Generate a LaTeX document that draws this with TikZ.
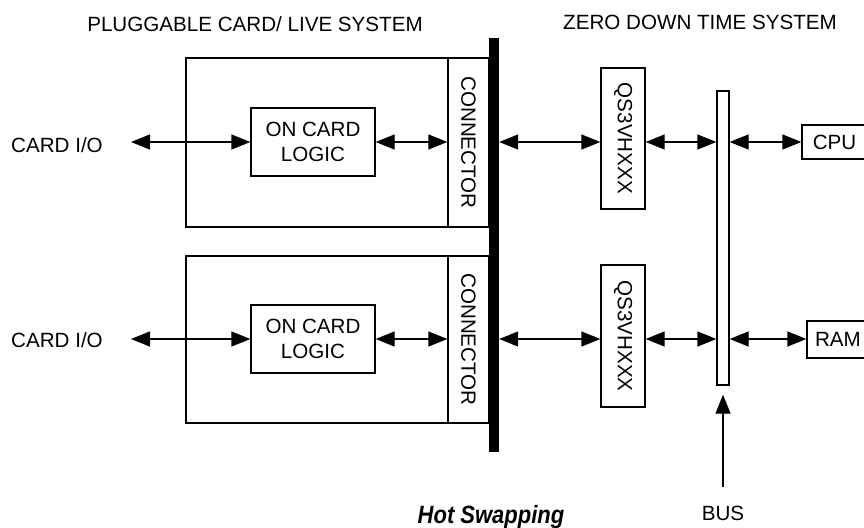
\documentclass[tikz,border=0pt]{standalone}
\usepackage{fontspec}
\setmainfont{Liberation Sans}
\usetikzlibrary{arrows.meta,positioning}

\tikzset{
  box/.style={draw,line width=1.3pt,inner sep=0pt},
  txt/.style={font=\fontsize{20.6}{25}\selectfont,inner sep=0pt},
  link/.style={line width=1.3pt,{Triangle[length=19pt,width=15pt]}-{Triangle[length=19pt,width=15pt]}},
  feed/.style={line width=1.3pt,-{Triangle[length=19pt,width=15pt]}},
}

\begin{document}
\begin{tikzpicture}[x=1pt,y=-1pt]
  \useasboundingbox (0,0) rectangle (864,527);

  % headings
  \node[txt] (ttlcard) at (255,24) {PLUGGABLE CARD/ LIVE SYSTEM};
  \node[txt] (ttlzero) at (700,22) {ZERO DOWN TIME SYSTEM};

  % rows of the two cards
  \coordinate (rowA) at (0,142);
  \coordinate (rowB) at (0,339);

  % backplane bar
  \node[fill,inner sep=0pt,minimum width=10pt,minimum height=414pt] (bar) at (494,245) {};

  % upper card
  \node[box,minimum width=303pt,minimum height=169pt] (cardA) at (337.5,142.5) {};
  \node[box,minimum width=41pt,minimum height=169pt,
        label={[txt,rotate=-90]center:CONNECTOR}] (connA) at (468.5,142.5) {};
  \node[box,txt,align=center,minimum width=124pt,minimum height=68pt] (logicA) at (313,142) {ON CARD\\LOGIC};
  \node[txt] (ioA) at (57,145) {CARD I/O};
  \coordinate (ioAend) at (131,142);

  % lower card
  \node[box,minimum width=303pt,minimum height=167pt] (cardB) at (337.5,339.5) {};
  \node[box,minimum width=41pt,minimum height=167pt,
        label={[txt,rotate=-90]center:CONNECTOR}] (connB) at (468.5,339.5) {};
  \node[box,txt,align=center,minimum width=124pt,minimum height=68pt] (logicB) at (313,339) {ON CARD\\LOGIC};
  \node[txt] (ioB) at (57,340) {CARD I/O};
  \coordinate (ioBend) at (131,339);

  % live system side
  \node[box,minimum width=44pt,minimum height=141pt,
        label={[txt,rotate=-90]center:QS3VHXXX}] (qsA) at (623,138.5) {};
  \node[box,minimum width=44pt,minimum height=142pt,
        label={[txt,rotate=-90]center:QS3VHXXX}] (qsB) at (623,336) {};
  \node[box,minimum width=12pt,minimum height=294pt] (bus) at (723,238) {};
  \node[box,txt,minimum width=65pt,minimum height=34pt] (cpu) at (834.5,142) {CPU};
  \node[box,txt,minimum width=62pt,minimum height=37pt] (ram) at (838,339.5) {RAM};

  % links
  \draw[link] (ioAend) -- (logicA.west |- rowA);
  \draw[link] (logicA.east |- rowA) -- (connA.west |- rowA);
  \draw[link] (bar.east |- rowA) -- (qsA.west |- rowA);
  \draw[link] (qsA.east |- rowA) -- (bus.west |- rowA);
  \draw[link] (bus.east |- rowA) -- (cpu.west |- rowA);

  \draw[link] (ioBend) -- (logicB.west |- rowB);
  \draw[link] (logicB.east |- rowB) -- (connB.west |- rowB);
  \draw[link] (bar.east |- rowB) -- (qsB.west |- rowB);
  \draw[link] (qsB.east |- rowB) -- (bus.west |- rowB);
  \draw[link] (bus.east |- rowB) -- (ram.west |- rowB);

  % bus feed
  \node[txt] (bustxt) at (723,513) {BUS};
  \coordinate (busfoot) at (723,487);
  \draw[feed,shorten >=9pt] (busfoot) -- (bus.south);

  % caption
  \node[font=\fontsize{25}{30}\selectfont\bfseries\itshape,inner sep=0pt,anchor=base] (caption) at (491,523)
    {\scalebox{0.88}[1]{Hot Swapping}};

\end{tikzpicture}
\end{document}
